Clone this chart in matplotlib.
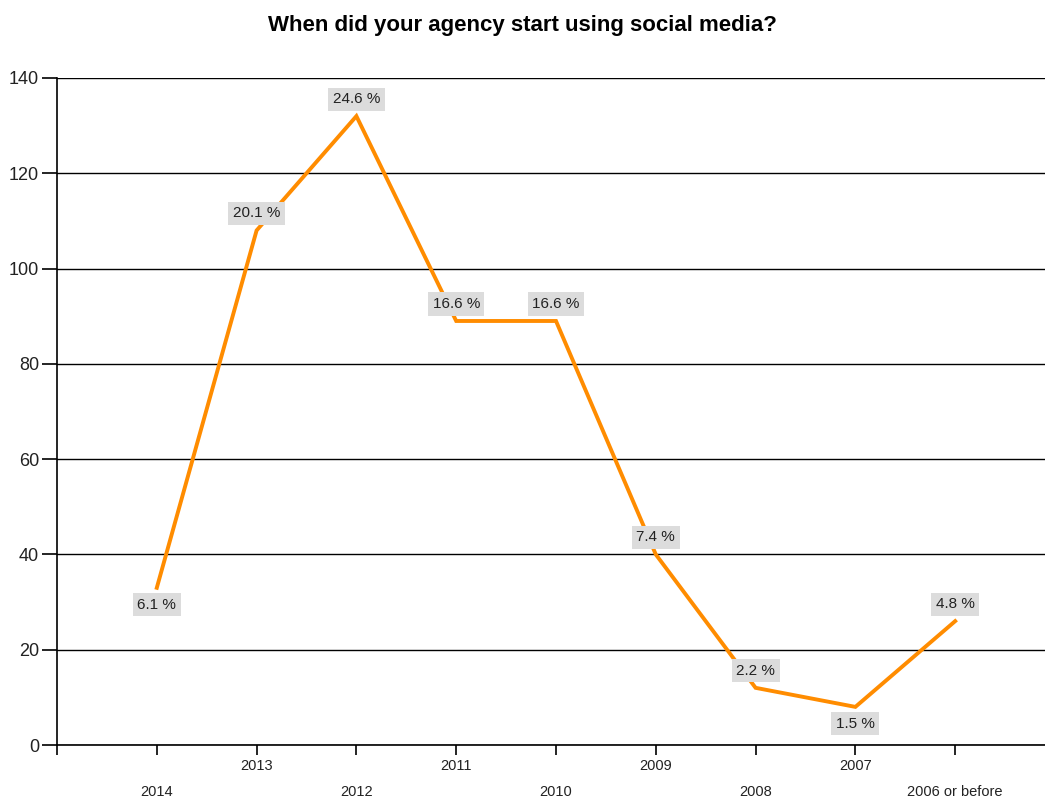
import matplotlib.pyplot as plt

plt.rcParams['font.family'] = ['Liberation Sans', 'DejaVu Sans']

# Data
years = ['2014', '2013', '2012', '2011', '2010', '2009', '2008', '2007', '2006 or before']
counts = [33, 108, 132, 89, 89, 40, 12, 8, 26]
percents = ['6.1 %', '20.1 %', '24.6 %', '16.6 %', '16.6 %', '7.4 %', '2.2 %', '1.5 %', '4.8 %']
label_below = [True, False, False, False, False, False, False, True, False]

fig = plt.figure(figsize=(10.45, 7.99), dpi=100)
ax = fig.add_axes([57 / 1045, 54 / 799, 1 - 57 / 1045, (745 - 78) / 799])

x = list(range(len(years)))
ax.plot(x, counts, color='#ff8c00', linewidth=2.8, solid_joinstyle='miter', zorder=3)

# Data labels with grey boxes
for xi, yi, txt, below in zip(x, counts, percents, label_below):
    off = -17 if below else 17
    ax.annotate(txt, (xi, yi), xytext=(0, off), textcoords='offset pixels',
                ha='center', va='center', fontsize=11, color='#222222',
                bbox=dict(boxstyle='square,pad=0.3', fc='#dcdcdc', ec='none'),
                zorder=4)

ax.set_ylim(0, 140)
ax.set_yticks(range(0, 141, 20))
ax.yaxis.grid(True, color='black', linewidth=1)
ax.set_axisbelow(True)
ax.set_xlim(-1, 8.9)
ax.set_xticks(range(-1, 9))
ax.set_xticklabels([''] * 10)

# staggered category labels
for xi, name in zip(x, years):
    ypos = -0.032 if xi % 2 == 1 else -0.071
    ax.text(xi, ypos, name, transform=ax.get_xaxis_transform(),
            ha='center', va='center', fontsize=10.5, color='#222222')

for s in ['top', 'right']:
    ax.spines[s].set_visible(False)
ax.spines['left'].set_linewidth(1.2)
ax.spines['bottom'].set_linewidth(1.2)
ax.tick_params(axis='y', length=11, width=1.2, labelsize=13, pad=2, labelcolor='#222222')
ax.tick_params(axis='x', length=7, width=1.2)

fig.text(0.5, 1 - 25 / 799, 'When did your agency start using social media?',
         ha='center', va='center', fontsize=16, fontweight='bold')

fig.savefig('out.png', dpi=100)
